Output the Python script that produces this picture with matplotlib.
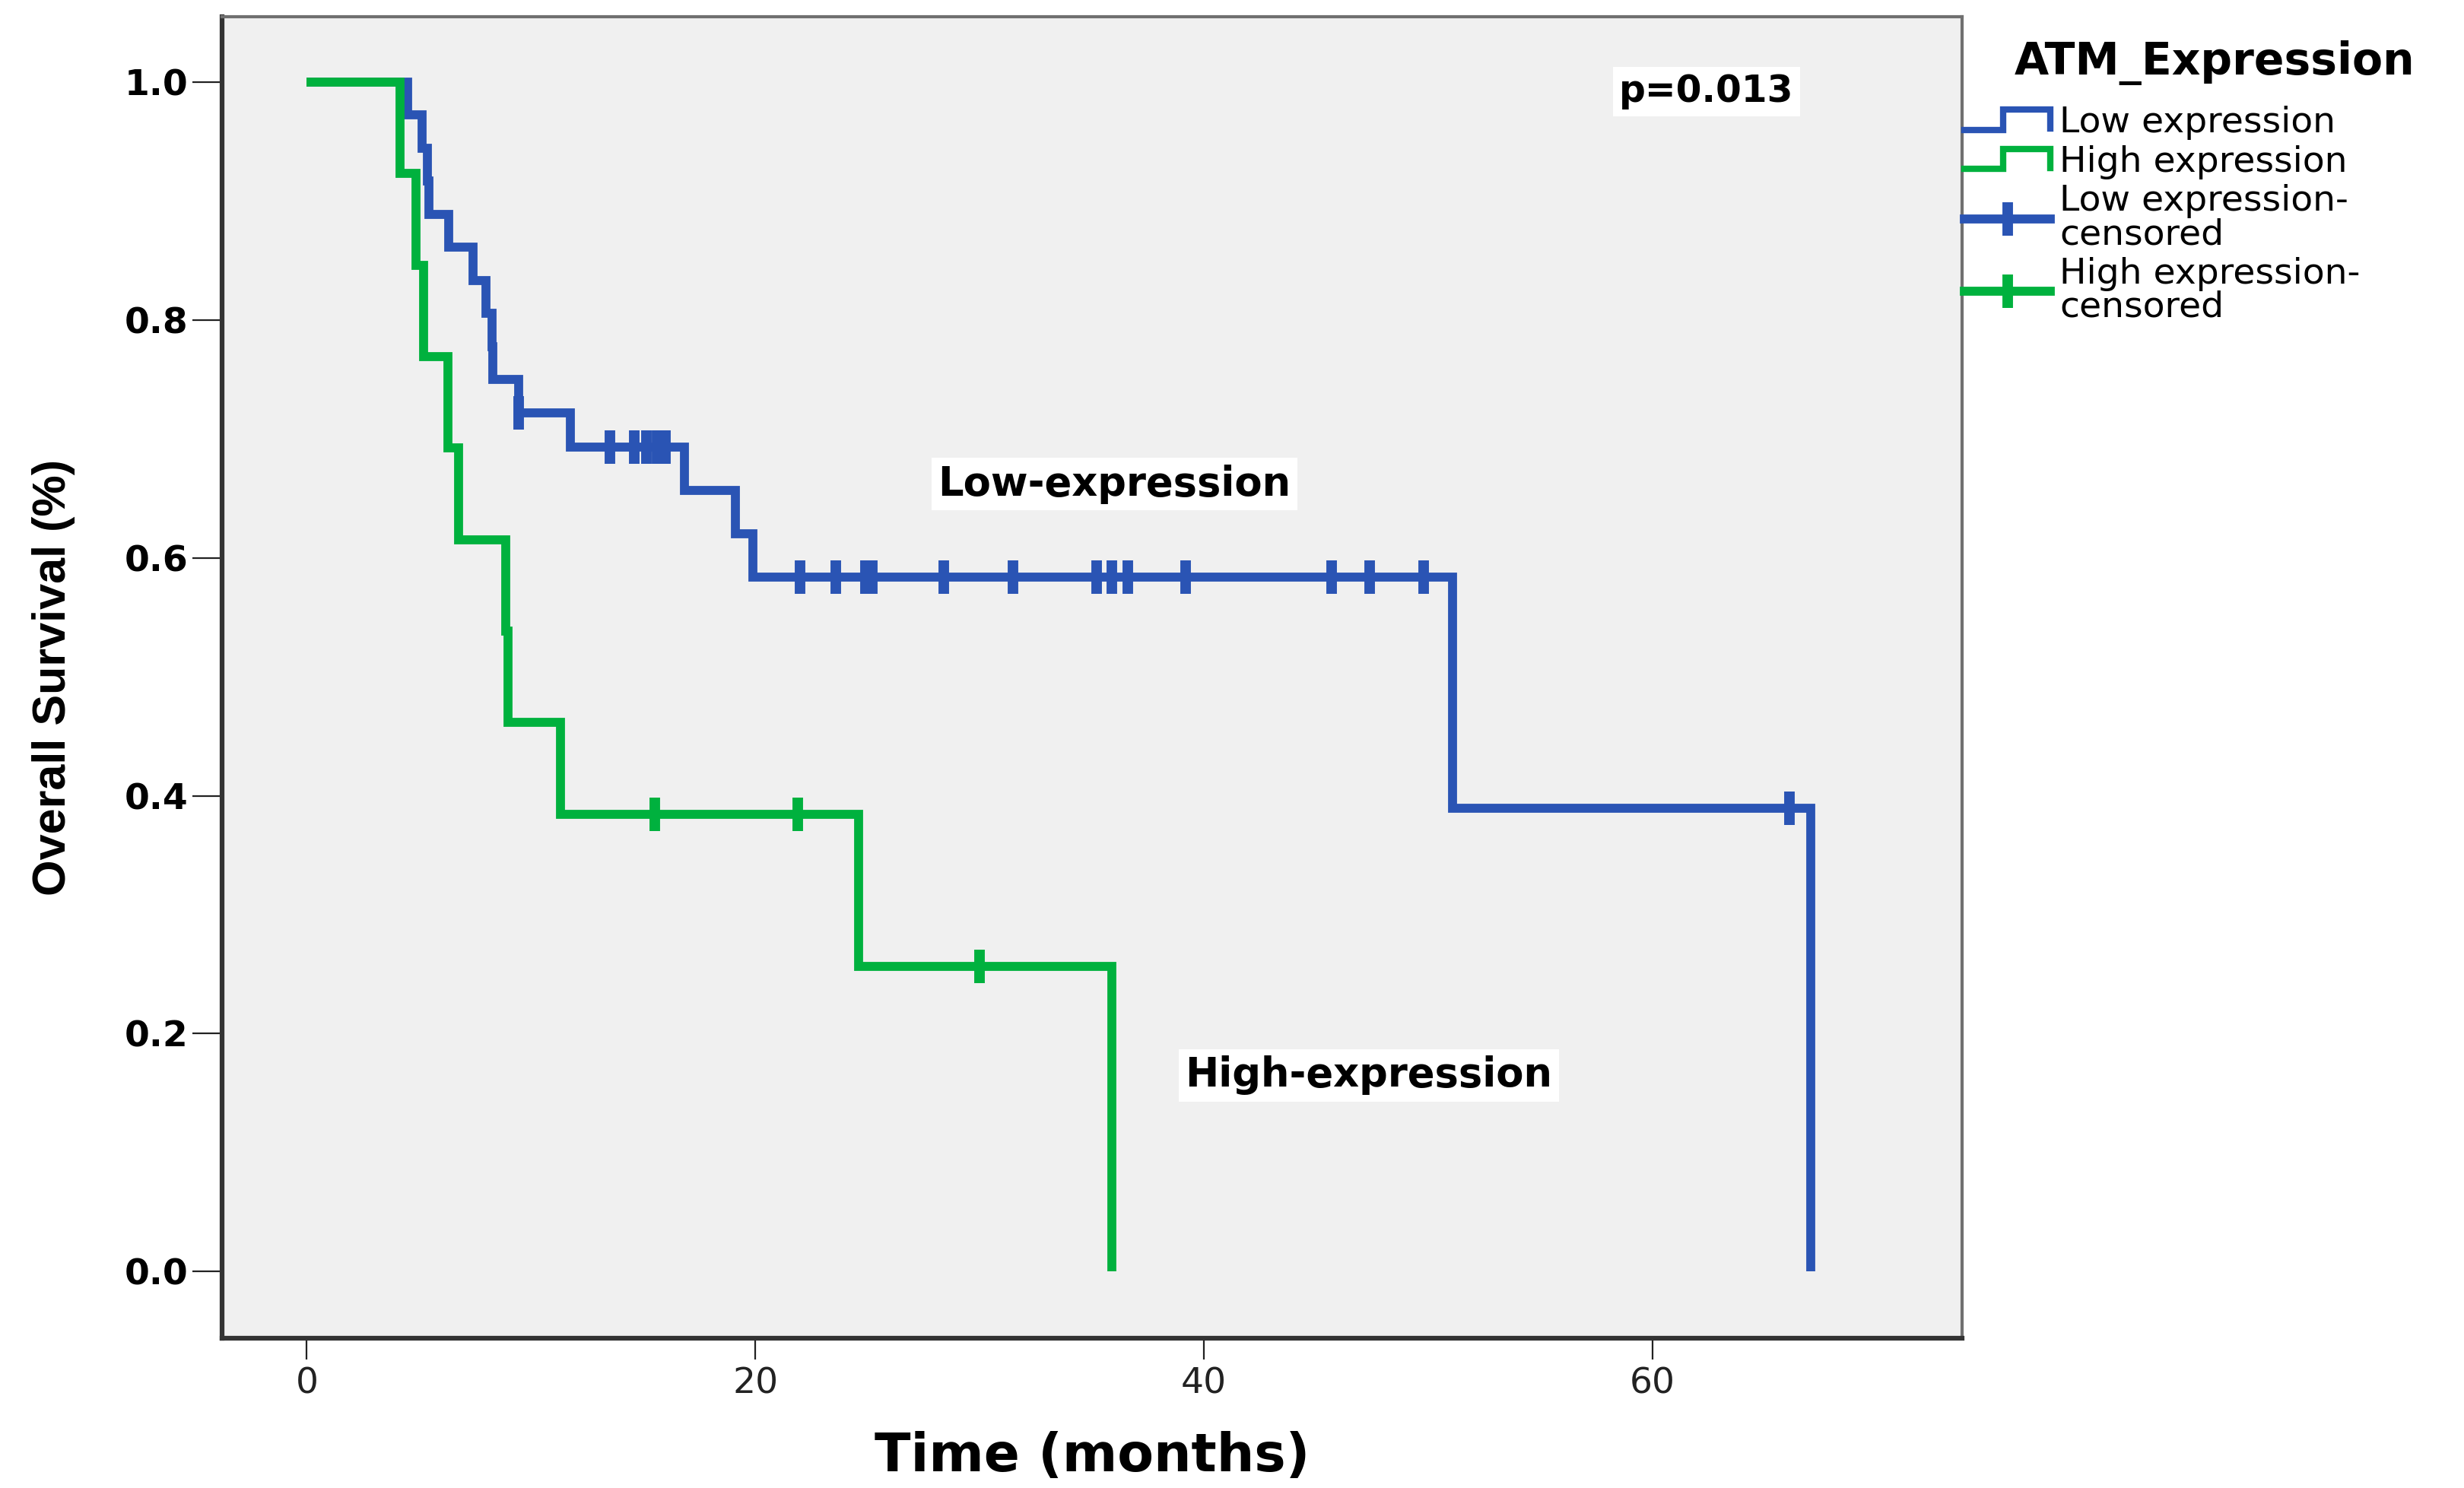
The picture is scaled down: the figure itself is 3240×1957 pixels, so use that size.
import numpy as np
import matplotlib
matplotlib.use("Agg")
import matplotlib.pyplot as plt
from matplotlib.lines import Line2D
from matplotlib.legend_handler import HandlerBase

# Survival times (months); 1 = death, 0 = censored
low_time = [4.5, 5.15, 5.38, 5.45, 6.34, 7.41, 7.97, 8.26, 8.3, 9.45, 9.45, 11.76,
            13.5, 14.6, 15.15, 15.6, 16.0, 16.85, 19.1, 19.9,
            22.0, 23.6, 24.9, 25.2, 28.4, 31.5, 35.2, 35.9, 36.6, 39.2, 45.7, 47.4, 49.8,
            51.1, 66.1, 67.05]
low_event = [1, 1, 1, 1, 1, 1, 1, 1, 1, 1, 0, 1,
             0, 0, 0, 0, 0, 1, 1, 1,
             0, 0, 0, 0, 0, 0, 0, 0, 0, 0, 0, 0, 0,
             1, 0, 1]

high_time = [4.14, 4.87, 5.2, 6.28, 6.78, 8.88, 8.98, 11.3, 15.5, 21.9, 24.6, 30.0, 35.9]
high_event = [1, 1, 1, 1, 1, 1, 1, 1, 0, 0, 1, 0, 1]

group_labels = ["Low expression", "High expression",
                "Low expression-\ncensored", "High expression-\ncensored"]
legend_title = "ATM_Expression"
p_text = "p=0.013"

xticks = [0, 20, 40, 60]
yticks = [0.0, 0.2, 0.4, 0.6, 0.8, 1.0]

blue = "#2A54B4"
green = "#00B13E"


def km(times, events):
    data = sorted(zip(times, events), key=lambda d: (d[0], -d[1]))
    at_risk = len(data)
    s = 1.0
    xs, ys, cx, cy = [0.0], [1.0], [], []
    for t, e in data:
        if e:
            s *= (at_risk - 1) / at_risk
            xs.append(t)
            ys.append(s)
        else:
            cx.append(t)
            cy.append(s)
        at_risk -= 1
    if data[-1][0] > xs[-1]:
        xs.append(data[-1][0])
        ys.append(s)
    return xs, ys, cx, cy


class HandlerStep(HandlerBase):
    def create_artists(self, legend, orig_handle, xdescent, ydescent,
                       width, height, fontsize, trans):
        x0 = -xdescent
        lo = -ydescent + 0.1 * height
        hi = -ydescent + 0.9 * height
        xs = [x0, x0 + 0.45 * width, x0 + 0.45 * width, x0 + width, x0 + width]
        ys = [lo, lo, hi, hi, lo + 0.05 * height]
        ln = Line2D(xs, ys, color=orig_handle.get_color(), lw=6,
                    solid_joinstyle="miter", transform=trans)
        return [ln]


fig = plt.figure(figsize=(32.41, 19.57), dpi=100)
ax = fig.add_axes([0.0901, 0.1007, 0.7059, 0.8881])
ax.set_facecolor("#F0F0F0")

lw = 8.5
for t, e, c in [(low_time, low_event, blue), (high_time, high_event, green)]:
    xs, ys, cx, cy = km(t, e)
    ax.plot(xs, ys, drawstyle="steps-post", color=c, lw=lw,
            solid_joinstyle="miter", solid_capstyle="butt", zorder=3)
    ax.plot(cx, cy, linestyle="none", marker="|", markersize=32,
            markeredgewidth=10, color=c, zorder=4)

ax.set_xlim(-3.78, 73.8)
ax.set_ylim(-0.056, 1.055)
ax.set_xticks(xticks)
ax.set_yticks(yticks)
ax.set_yticklabels(["%.1f" % v for v in yticks], fontsize=34, fontweight="bold")
ax.set_xticklabels([str(v) for v in xticks], fontsize=34, color="#222222")
ax.tick_params(axis="y", length=28, width=1.6, pad=4, color="#222222")
ax.tick_params(axis="x", length=20, width=1.6, pad=7, color="#222222")

for side in ["left", "bottom"]:
    ax.spines[side].set_linewidth(4.5)
    ax.spines[side].set_color("#333333")
for side in ["top", "right"]:
    ax.spines[side].set_linewidth(3)
    ax.spines[side].set_color("#707070")

ax.set_xlabel("Time (months)", fontsize=50, fontweight="bold")
ax.xaxis.set_label_coords(0.5, -0.07)
ax.set_ylabel("Overall Survival (%)", fontsize=44, fontweight="bold",
              family=["Liberation Sans", "DejaVu Sans"])
ax.yaxis.set_label_coords(-0.0844, 0.5)

box = dict(facecolor="white", edgecolor="none", pad=6)
ax.text(62.4, 0.992, p_text, fontsize=35, fontweight="bold", ha="center",
        va="center", bbox=box, zorder=5)
ax.text(36.0, 0.662, "Low-expression", fontsize=38, fontweight="bold",
        ha="center", va="center", bbox=box, zorder=5)
ax.text(47.35, 0.165, "High-expression", fontsize=38, fontweight="bold",
        ha="center", va="center", bbox=box, zorder=5)

# legend (title placed as a separate text so its gap matches the original)
fig.text(0.8985, 0.958, legend_title, fontsize=42, fontweight="bold",
         ha="center", va="center")
h_low = Line2D([], [], color=blue)
h_high = Line2D([], [], color=green)
h_low_c = Line2D([], [], color=blue, lw=lw, marker="|", markersize=32, markeredgewidth=10)
h_high_c = Line2D([], [], color=green, lw=lw, marker="|", markersize=32, markeredgewidth=10)
leg = fig.legend([h_low, h_high, h_low_c, h_high_c], group_labels,
                 loc="upper left", bbox_to_anchor=(0.797, 0.929),
                 frameon=False, fontsize=34, borderpad=0, borderaxespad=0,
                 handlelength=2.4, handletextpad=0.25, labelspacing=0.14,
                 handler_map={h_low: HandlerStep(), h_high: HandlerStep()})
for txt in leg.get_texts():
    txt.set_linespacing(0.97)

fig.savefig("out.png", dpi=100, facecolor="white")
